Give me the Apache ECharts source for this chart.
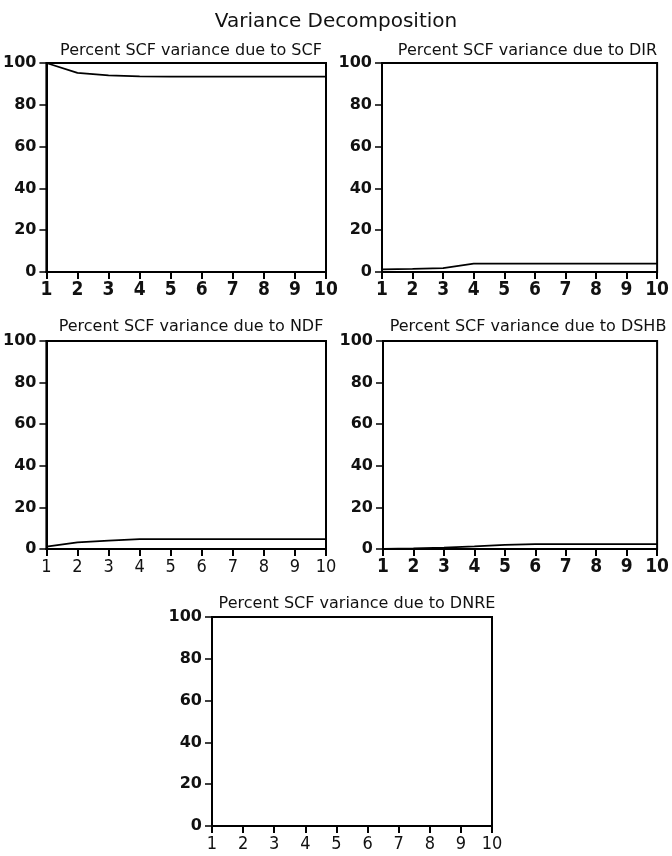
<!DOCTYPE html>
<html><head><meta charset="utf-8">
<script src="https://cdn.jsdelivr.net/npm/echarts@6/dist/echarts.min.js"></script>
<style>html,body{margin:0;padding:0;background:#fff}#c{width:672px;height:856px}</style>
</head><body><div id="c"></div>
<script>
const steps = [1,2,3,4,5,6,7,8,9,10];
const yTicks = [0,20,40,60,80,100];
const panelTitles = ['Percent SCF variance due to SCF','Percent SCF variance due to DIR','Percent SCF variance due to NDF','Percent SCF variance due to DSHB','Percent SCF variance due to DNRE'];
const scf  = [100, 95.3, 94.1, 93.6, 93.5, 93.5, 93.5, 93.5, 93.5, 93.5];
const dir  = [1.3, 1.5, 1.9, 4.0, 4.0, 4.0, 4.0, 4.0, 4.0, 4.0];
const ndf  = [1.1, 3.2, 4.0, 4.7, 4.7, 4.7, 4.7, 4.7, 4.7, 4.7];
const dshb = [0.1, 0.3, 0.7, 1.3, 2.0, 2.3, 2.3, 2.3, 2.3, 2.3];
const dnre = [0, 0, 0, 0, 0, 0, 0, 0, 0, 0];
const seriesData = [scf, dir, ndf, dshb, dnre];

const FONT = 'DejaVu Sans';
const FONTC = 'DejaVu Sans Condensed';
const grids = [
  {left:46, top:63, width:280, height:209},
  {left:382, top:63, width:281, height:209},
  {left:46, top:341, width:280, height:208},
  {left:383, top:341, width:280, height:208},
  {left:212, top:617, width:280, height:209}
];
const xBold = [true, true, false, true, false];
const xSize = [19, 19, 18, 19, 18];
const titleTops = [37, 37, 313, 313, 590];

const option = {
  animation:false,
  backgroundColor:'#fff',
  title: [{text:'Variance Decomposition', left:'center', top:6,
           textStyle:{fontFamily:FONT, fontSize:20, fontWeight:'normal', color:'#111', lineHeight:22}}]
    .concat(panelTitles.map((t,i)=>({text:t, left:grids[i].left + grids[i].width/2, textAlign:'center', top:titleTops[i],
           textStyle:{fontFamily:FONT, fontSize:16, fontWeight:'normal', color:'#111', lineHeight:18}}))),
  grid: grids.map(g=>Object.assign({show:true, borderColor:'#000', borderWidth:2, backgroundColor:'transparent', containLabel:false}, g)),
  xAxis: grids.map((g,i)=>({type:'value', gridIndex:i, min:1, max:10, interval:1,
    axisLine:{show:true, onZero:false, lineStyle:{color:'#000', width:2}},
    axisTick:{show:true, inside:false, length:7, lineStyle:{color:'#000', width:2}},
    splitLine:{show:false},
    axisLabel:{show:true, margin:9, fontFamily:FONTC, fontSize:xSize[i], fontWeight:xBold[i]?'bold':'normal', color:'#111',
      formatter:v=>steps.includes(v)?String(v):''}
  })),
  yAxis: grids.map((g,i)=>({type:'value', gridIndex:i, min:0, max:100, interval:20,
    axisLine:{show:true, onZero:false, lineStyle:{color:'#000', width:2}},
    axisTick:{show:true, inside:false, length:7, lineStyle:{color:'#000', width:1.5}},
    splitLine:{show:false},
    axisLabel:{show:true, margin:10, fontFamily:FONT, fontSize:16, fontWeight:'bold', color:'#111',
      formatter:v=>yTicks.includes(v)?String(v):''}
  })),
  series: seriesData.map((d,i)=>({type:'line', xAxisIndex:i, yAxisIndex:i,
    data: steps.map((s,k)=>[s, d[k]]), showSymbol:false, symbol:'none',
    lineStyle:{color:'#000', width:1.8}, clip:true}))
};
const chart = echarts.init(document.getElementById('c'), null, {renderer:'canvas'});
chart.setOption(option);
</script></body></html>
